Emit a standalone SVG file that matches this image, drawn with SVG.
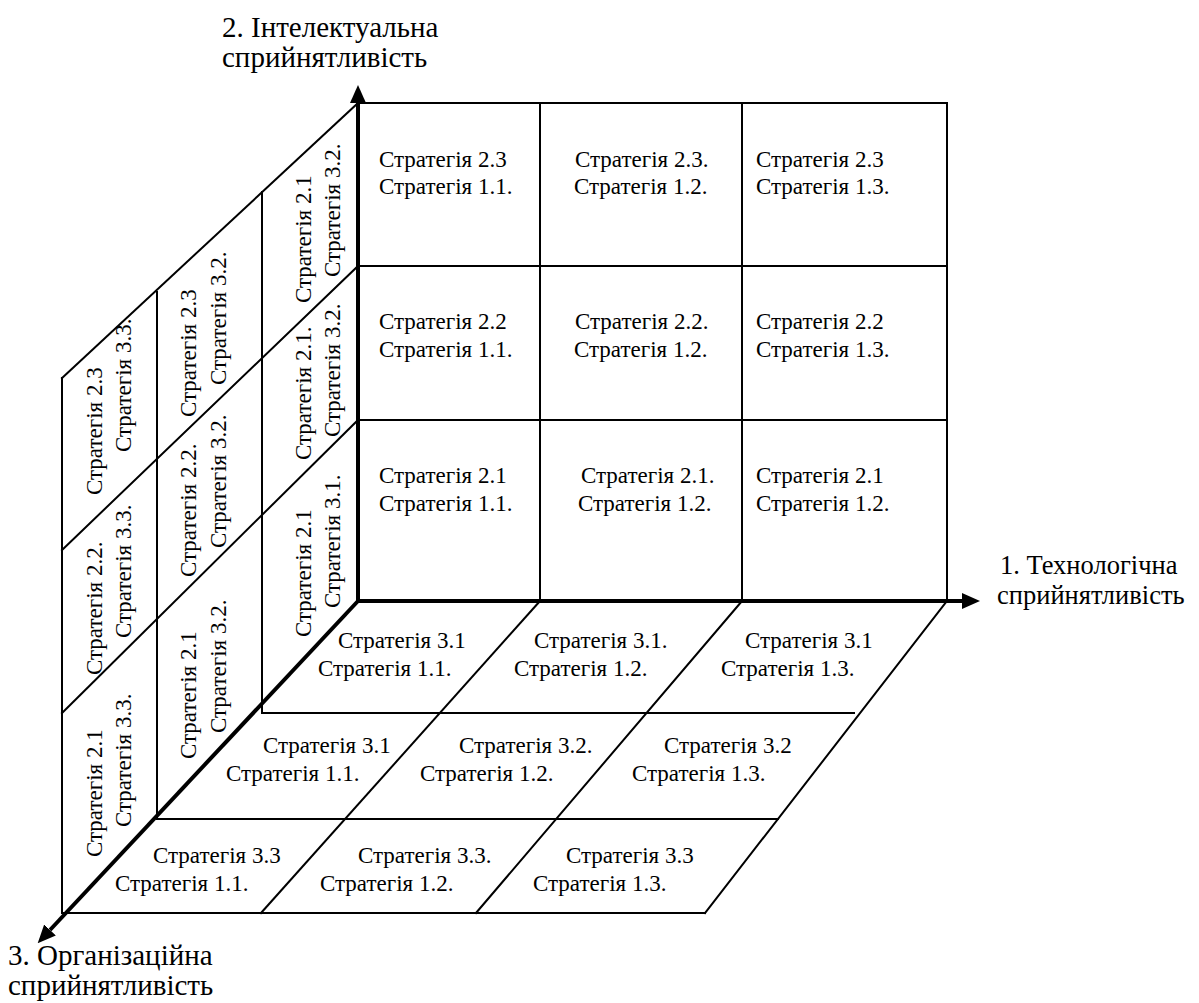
<svg xmlns="http://www.w3.org/2000/svg" width="1199" height="1003" viewBox="0 0 1199 1003">
<defs>
<style>
.ln{stroke:#000;stroke-width:2;fill:none;stroke-linecap:square}
.ax{stroke:#000;stroke-width:4;fill:none}
.t{font-family:"Liberation Serif","Times New Roman",serif;font-size:23px;fill:#000}
.lb{font-family:"Liberation Serif","Times New Roman",serif;font-size:29px;fill:#000}
.lbr{font-family:"Liberation Serif","Times New Roman",serif;font-size:26.5px;fill:#000}
</style>
<marker id="ah" markerUnits="userSpaceOnUse" markerWidth="18" markerHeight="16" viewBox="0 0 18 16" refX="0" refY="8" orient="auto">
<path d="M0,0 L18,8 L0,16 Z" fill="#000"/>
</marker>
</defs>
<rect width="1199" height="1003" fill="#fff"/>

<g id="grid">
<!-- front panel -->
<rect class="ln" x="358" y="103" width="589" height="498"/>
<line class="ln" x1="540" y1="103" x2="540" y2="601"/>
<line class="ln" x1="742" y1="103" x2="742" y2="601"/>
<line class="ln" x1="358" y1="266" x2="947" y2="266"/>
<line class="ln" x1="358" y1="420" x2="947" y2="420"/>
<!-- left panel -->
<line class="ln" x1="358" y1="103" x2="62" y2="378"/>
<line class="ln" x1="358" y1="266" x2="62" y2="550"/>
<line class="ln" x1="358" y1="420" x2="62" y2="713"/>
<line class="ln" x1="262" y1="192" x2="262" y2="713"/>
<line class="ln" x1="157" y1="292" x2="157" y2="819"/>
<line class="ln" x1="62" y1="378" x2="62" y2="913"/>
<!-- bottom panel -->
<line class="ln" x1="262" y1="713" x2="854" y2="713"/>
<line class="ln" x1="157" y1="819" x2="778" y2="819"/>
<line class="ln" x1="62" y1="913" x2="705" y2="913"/>
<line class="ln" x1="540" y1="601" x2="261" y2="913"/>
<line class="ln" x1="742" y1="601" x2="476" y2="913"/>
<line class="ln" x1="947" y1="601" x2="705" y2="913"/>
</g>

<g id="connectors">
<line class="ax" x1="358" y1="601" x2="358" y2="103" marker-end="url(#ah)"/>
<line class="ax" x1="358" y1="601" x2="962" y2="601" marker-end="url(#ah)"/>
<line class="ax" x1="358" y1="601" x2="50" y2="930" marker-end="url(#ah)"/>
</g>

<g id="axis-1"><text class="lbr" x="1000" y="574">1. Технологічна</text><text class="lbr" x="997" y="604">сприйнятливість</text></g>
<g id="axis-2"><text class="lb" x="222" y="37">2. Інтелектуальна</text><text class="lb" x="222" y="67">сприйнятливість</text></g>
<g id="axis-3"><text class="lb" x="8" y="965">3. Організаційна</text><text class="lb" x="8" y="995">сприйнятливість</text></g>

<!-- front panel cells -->
<g id="f11"><text class="t" x="379" y="167">Стратегія 2.3</text><text class="t" x="379" y="194">Стратегія 1.1.</text></g>
<g id="f12"><text class="t" x="575" y="167">Стратегія 2.3.</text><text class="t" x="574" y="194">Стратегія 1.2.</text></g>
<g id="f13"><text class="t" x="756" y="167">Стратегія 2.3</text><text class="t" x="756" y="194">Стратегія 1.3.</text></g>
<g id="f21"><text class="t" x="379" y="329">Стратегія 2.2</text><text class="t" x="379" y="357">Стратегія 1.1.</text></g>
<g id="f22"><text class="t" x="575" y="329">Стратегія 2.2.</text><text class="t" x="574" y="357">Стратегія 1.2.</text></g>
<g id="f23"><text class="t" x="756" y="329">Стратегія 2.2</text><text class="t" x="756" y="357">Стратегія 1.3.</text></g>
<g id="f31"><text class="t" x="379" y="483">Стратегія 2.1</text><text class="t" x="379" y="511">Стратегія 1.1.</text></g>
<g id="f32"><text class="t" x="581" y="483">Стратегія 2.1.</text><text class="t" x="578" y="511">Стратегія 1.2.</text></g>
<g id="f33"><text class="t" x="756" y="483">Стратегія 2.1</text><text class="t" x="756" y="511">Стратегія 1.2.</text></g>

<!-- bottom panel cells -->
<g id="b11"><text class="t" x="338" y="648">Стратегія 3.1</text><text class="t" x="318" y="676">Стратегія 1.1.</text></g>
<g id="b12"><text class="t" x="534" y="648">Стратегія 3.1.</text><text class="t" x="514" y="676">Стратегія 1.2.</text></g>
<g id="b13"><text class="t" x="745" y="648">Стратегія 3.1</text><text class="t" x="721" y="676">Стратегія 1.3.</text></g>
<g id="b21"><text class="t" x="263" y="753">Стратегія 3.1</text><text class="t" x="226" y="781">Стратегія 1.1.</text></g>
<g id="b22"><text class="t" x="459" y="753">Стратегія 3.2.</text><text class="t" x="420" y="781">Стратегія 1.2.</text></g>
<g id="b23"><text class="t" x="664" y="753">Стратегія 3.2</text><text class="t" x="632" y="781">Стратегія 1.3.</text></g>
<g id="b31"><text class="t" x="153" y="863">Стратегія 3.3</text><text class="t" x="115" y="891">Стратегія 1.1.</text></g>
<g id="b32"><text class="t" x="358" y="863">Стратегія 3.3.</text><text class="t" x="320" y="891">Стратегія 1.2.</text></g>
<g id="b33"><text class="t" x="566" y="863">Стратегія 3.3</text><text class="t" x="533" y="891">Стратегія 1.3.</text></g>

<!-- left panel cells -->
<g id="l11"><text class="t" transform="translate(102,495) rotate(-90)">Стратегія 2.3</text><text class="t" transform="translate(131,452) rotate(-90)">Стратегія 3.3.</text></g>
<g id="l21"><text class="t" transform="translate(102,675) rotate(-90)">Стратегія 2.2.</text><text class="t" transform="translate(131,638) rotate(-90)">Стратегія 3.3.</text></g>
<g id="l31"><text class="t" transform="translate(102,857) rotate(-90)">Стратегія 2.1</text><text class="t" transform="translate(131,827) rotate(-90)">Стратегія 3.3.</text></g>
<g id="l12"><text class="t" transform="translate(196,417) rotate(-90)">Стратегія 2.3</text><text class="t" transform="translate(226,385) rotate(-90)">Стратегія 3.2.</text></g>
<g id="l22"><text class="t" transform="translate(196,577) rotate(-90)">Стратегія 2.2.</text><text class="t" transform="translate(226,548) rotate(-90)">Стратегія 3.2.</text></g>
<g id="l32"><text class="t" transform="translate(196,759) rotate(-90)">Стратегія 2.1</text><text class="t" transform="translate(226,733) rotate(-90)">Стратегія 3.2.</text></g>
<g id="l13"><text class="t" transform="translate(311,303) rotate(-90)">Стратегія 2.1</text><text class="t" transform="translate(340,277) rotate(-90)">Стратегія 3.2.</text></g>
<g id="l23"><text class="t" transform="translate(311,460) rotate(-90)">Стратегія 2.1.</text><text class="t" transform="translate(340,437) rotate(-90)">Стратегія 3.2.</text></g>
<g id="l33"><text class="t" transform="translate(311,637) rotate(-90)">Стратегія 2.1</text><text class="t" transform="translate(340,608) rotate(-90)">Стратегія 3.1.</text></g>
</svg>
